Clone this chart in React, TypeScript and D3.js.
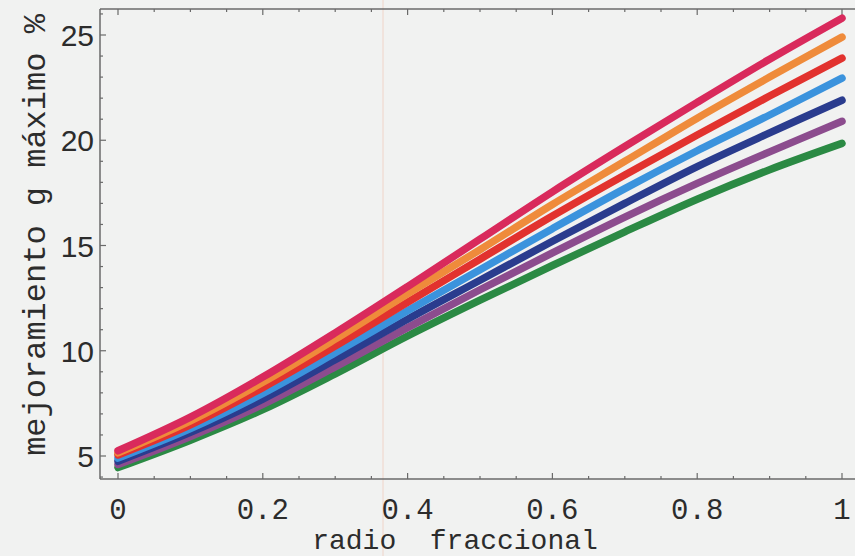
import React from "react";
import * as d3 from "d3";

const xs = [0, 0.1, 0.2, 0.3, 0.4, 0.5, 0.6, 0.7, 0.8, 0.9, 1.0];
const pinkSeries = [5.25, 6.85, 8.75, 10.85, 13.05, 15.3, 17.55, 19.7, 21.8, 23.85, 25.8];
const orangeSeries = [5.15, 6.67, 8.5, 10.55, 12.7, 14.8, 16.95, 19.0, 21.05, 23.0, 24.9];
const redSeries = [5.05, 6.48, 8.25, 10.22, 12.3, 14.35, 16.4, 18.35, 20.25, 22.1, 23.9];
const blueSeries = [4.9, 6.3, 7.97, 9.9, 11.9, 13.85, 15.8, 17.7, 19.5, 21.2, 22.95];
const navySeries = [4.75, 6.12, 7.7, 9.57, 11.5, 13.35, 15.2, 17.0, 18.75, 20.35, 21.9];
const purpleSeries = [4.6, 5.93, 7.45, 9.23, 11.1, 12.9, 14.65, 16.35, 17.95, 19.45, 20.9];
const greenSeries = [4.45, 5.75, 7.2, 8.9, 10.7, 12.4, 14.05, 15.65, 17.2, 18.6, 19.85];

const seriesList = [greenSeries, purpleSeries, navySeries, blueSeries, redSeries, orangeSeries, pinkSeries];
const seriesColors = ["#2b8a44", "#8c4c8e", "#2a3c8e", "#3b93dd", "#e2322e", "#ef8b3b", "#d92a5c"];

const xTickValues = [0, 0.2, 0.4, 0.6, 0.8, 1];
const xTickLabels = ["0", "0.2", "0.4", "0.6", "0.8", "1"];
const yTickValues = [5, 10, 15, 20, 25];
const yTickLabels = ["5", "10", "15", "20", "25"];

const W = 855;
const H = 556;
const left = 100, top = 9, bottom = 479, right = 855;

export default function App() {
  const x = d3.scaleLinear().domain([0, 1]).range([118, 842]);
  const y = d3.scaleLinear().domain([5, 25]).range([456, 35]);
  const line = d3
    .line<number>()
    .x((_, i) => x(xs[i]))
    .y((d) => y(d))
    .curve(d3.curveCatmullRom);

  const xMinor = d3.range(0, 1.0001, 0.05).map((v) => +v.toFixed(2));
  const yMinor = d3.range(4, 27, 1).filter((v) => y(v) > top && y(v) < bottom);
  const axisColor = "#6a6a6a";
  const textColor = "#2c2c2c";

  return (
    <svg
      width={W}
      height={H}
      style={{ position: "absolute", left: 0, top: 0, background: "#f1f2f1" }}
    >
      <rect x={0} y={0} width={W} height={H} fill="#f1f2f1" />
      <line x1={383} x2={383} y1={0} y2={H} stroke="#f0c8b8" strokeWidth={1} opacity={0.7} />
      {/* frame */}
      <line x1={left} x2={right} y1={top} y2={top} stroke={axisColor} strokeWidth={1.5} />
      <line x1={left} x2={right} y1={bottom} y2={bottom} stroke={axisColor} strokeWidth={1.5} />
      <line x1={left} x2={left} y1={top} y2={bottom} stroke={axisColor} strokeWidth={1.5} />
      {/* x ticks */}
      {xMinor.map((v, i) => {
        const major = xTickValues.some((t) => Math.abs(t - v) < 1e-6);
        const len = major ? 6 : 3;
        return (
          <g key={"xm" + i}>
            <line x1={x(v)} x2={x(v)} y1={bottom} y2={bottom - len} stroke={axisColor} strokeWidth={1.2} />
            <line x1={x(v)} x2={x(v)} y1={top} y2={top + len} stroke={axisColor} strokeWidth={1.2} />
          </g>
        );
      })}
      {/* y ticks */}
      {yMinor.map((v, i) => {
        const major = yTickValues.includes(v);
        const len = major ? 6 : 3;
        return (
          <line key={"ym" + i} x1={left} x2={left + len} y1={y(v)} y2={y(v)} stroke={axisColor} strokeWidth={1.2} />
        );
      })}
      {/* lines */}
      {seriesList.map((s, i) => (
        <path
          key={"s" + i}
          d={line(s) || ""}
          fill="none"
          stroke={seriesColors[i]}
          strokeWidth={7.5}
          strokeLinecap="round"
          strokeLinejoin="round"
        />
      ))}
      {/* tick labels */}
      {xTickValues.map((v, i) => (
        <text
          key={"xl" + i}
          x={x(v)}
          y={519}
          textAnchor="middle"
          fontFamily="Liberation Mono, monospace"
          fontSize={29}
          fill={textColor}
        >
          {xTickLabels[i]}
        </text>
      ))}
      {yTickValues.map((v, i) => (
        <text
          key={"yl" + i}
          x={94}
          y={y(v) + 11}
          textAnchor="end"
          fontFamily="Liberation Sans, sans-serif"
          fontSize={30}
          fill={textColor}
        >
          {yTickLabels[i]}
        </text>
      ))}
      <text
        x={455}
        y={549}
        textAnchor="middle"
        fontFamily="Liberation Mono, monospace"
        fontSize={28}
        fill={textColor}
        style={{ whiteSpace: "pre" }}
      >
        {"radio  fraccional"}
      </text>
      <text
        transform={`translate(45, 235) rotate(-90)`}
        textAnchor="middle"
        fontFamily="Liberation Mono, monospace"
        fontSize={32}
        fill={textColor}
        style={{ whiteSpace: "pre" }}
      >
        {"mejoramiento g máximo %"}
      </text>
    </svg>
  );
}
